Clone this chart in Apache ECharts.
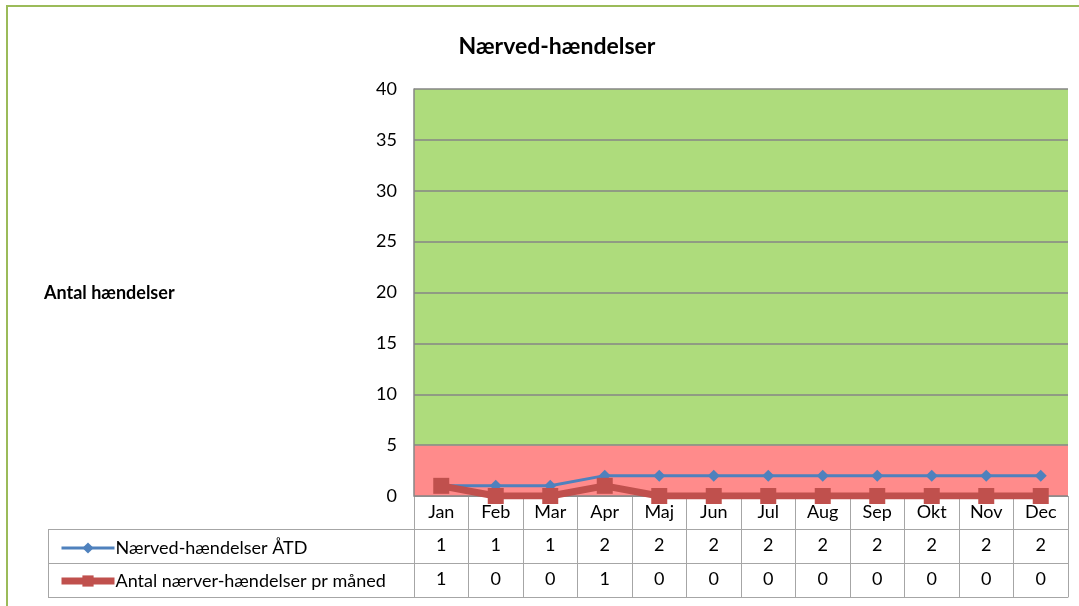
<!DOCTYPE html>
<html lang="da">
<head>
  <meta charset="UTF-8">
  <title>Nærved-hændelser</title>
  <script src="https://cdn.jsdelivr.net/npm/echarts@6/dist/echarts.min.js"></script>
  <style>
    html, body { margin: 0; padding: 0; background: #fff; }
  </style>
</head>
<body>
  <div id="chart" style="width:1079px;height:606px;"></div>

  <script>
    // data
    var months = ['Jan', 'Feb', 'Mar', 'Apr', 'Maj', 'Jun', 'Jul', 'Aug', 'Sep', 'Okt', 'Nov', 'Dec'];
    var atdName = 'Nærved-hændelser ÅTD';
    var atdValues = [1, 1, 1, 2, 2, 2, 2, 2, 2, 2, 2, 2];
    var monthName = 'Antal nærver-hændelser pr måned';
    var monthValues = [1, 0, 0, 1, 0, 0, 0, 0, 0, 0, 0, 0];
    // colour bands: red zone 0-5, green zone 5-40
    var bandLimits = [0, 5, 40];

    var font = 'Lato, "Open Sans", sans-serif';
    var cellLine = '#a6a6a6';
    var gridGray = '#868686';
    var blue = '#4f81bd';
    var red = '#c0504d';

    var myChart = echarts.init(document.getElementById('chart'));

    // one category axis per table row, the ticks draw the cell borders
    function tableAxis(offset, rowData, tickLen, showLabels) {
      return {
        type: 'category',
        data: rowData,
        position: 'bottom',
        offset: offset,
        boundaryGap: true,
        axisLine: { show: true, lineStyle: { color: cellLine, width: 1 } },
        axisTick: { show: tickLen > 0, length: tickLen, lineStyle: { color: cellLine, width: 1 } },
        axisLabel: {
          show: showLabels,
          interval: 0,
          margin: 7,
          color: '#000',
          fontSize: 18,
          fontFamily: font
        },
        splitLine: { show: false }
      };
    }

    var options = {
      animation: false,
      title: {
        text: 'Nærved-hændelser',
        left: 552,
        textAlign: 'center',
        top: 30,
        textStyle: { fontFamily: font, fontSize: 23, fontWeight: 'bold', color: '#000' }
      },
      legend: {
        orient: 'vertical',
        left: 53,
        top: 534,
        itemWidth: 53,
        itemHeight: 14,
        itemGap: 15,
        data: [
          { name: atdName, lineStyle: { width: 3, color: blue } },
          { name: monthName, lineStyle: { width: 7, color: red } }
        ],
        textStyle: { fontFamily: font, fontSize: 18, color: '#000', padding: [0, 0, 0, -4] }
      },
      grid: { left: 414, right: 11, top: 89, bottom: 110 },
      xAxis: [
        tableAxis(0, months, 33, true),
        tableAxis(33, atdValues.map(String), 34, true),
        tableAxis(67, monthValues.map(String), 34, true),
        tableAxis(101, months.map(function () { return ''; }), 0, false)
      ],
      yAxis: {
        type: 'value',
        min: 0,
        max: 40,
        interval: 5,
        z: 2,
        axisLine: { show: true, lineStyle: { color: gridGray, width: 1.5 } },
        axisTick: { show: false },
        axisLabel: { color: '#000', fontSize: 18, fontFamily: font, margin: 17 },
        splitLine: { show: true, lineStyle: { color: gridGray, width: 1.5 } }
      },
      graphic: [
        {
          type: 'rect',
          shape: { x: 7, y: 6, width: 1200, height: 800 },
          style: { fill: 'none', stroke: '#9bbb59', lineWidth: 2 },
          silent: true
        },
        {
          type: 'text',
          left: 44,
          top: 284,
          style: { text: 'Antal hændelser', font: 'bold 18px ' + font, fill: '#000' }
        },
        {
          type: 'group',
          silent: true,
          children: [
            { type: 'line', shape: { x1: 48, y1: 529.5, x2: 414, y2: 529.5 }, style: { stroke: cellLine, lineWidth: 1 } },
            { type: 'line', shape: { x1: 48, y1: 563.5, x2: 414, y2: 563.5 }, style: { stroke: cellLine, lineWidth: 1 } },
            { type: 'line', shape: { x1: 48, y1: 597.5, x2: 414, y2: 597.5 }, style: { stroke: cellLine, lineWidth: 1 } },
            { type: 'line', shape: { x1: 48.5, y1: 529, x2: 48.5, y2: 598 }, style: { stroke: cellLine, lineWidth: 1 } }
          ]
        }
      ],
      series: [
        {
          // background zones
          type: 'line',
          data: [],
          z: 0,
          silent: true,
          markArea: {
            silent: true,
            z: 0,
            data: [
              [{ yAxis: bandLimits[0], itemStyle: { color: '#ff8b8b' } }, { yAxis: bandLimits[1] }],
              [{ yAxis: bandLimits[1], itemStyle: { color: '#aedc7c' } }, { yAxis: bandLimits[2] }]
            ]
          }
        },
        {
          name: atdName,
          type: 'line',
          data: atdValues,
          z: 4,
          symbol: 'diamond',
          symbolSize: 12,
          color: blue,
          lineStyle: { width: 3, color: blue },
          itemStyle: { color: blue }
        },
        {
          name: monthName,
          type: 'line',
          data: monthValues,
          z: 5,
          symbol: 'rect',
          symbolSize: 16,
          color: red,
          lineStyle: { width: 7, color: red },
          itemStyle: { color: red }
        }
      ]
    };

    myChart.setOption(options);
  </script>
</body>
</html>
